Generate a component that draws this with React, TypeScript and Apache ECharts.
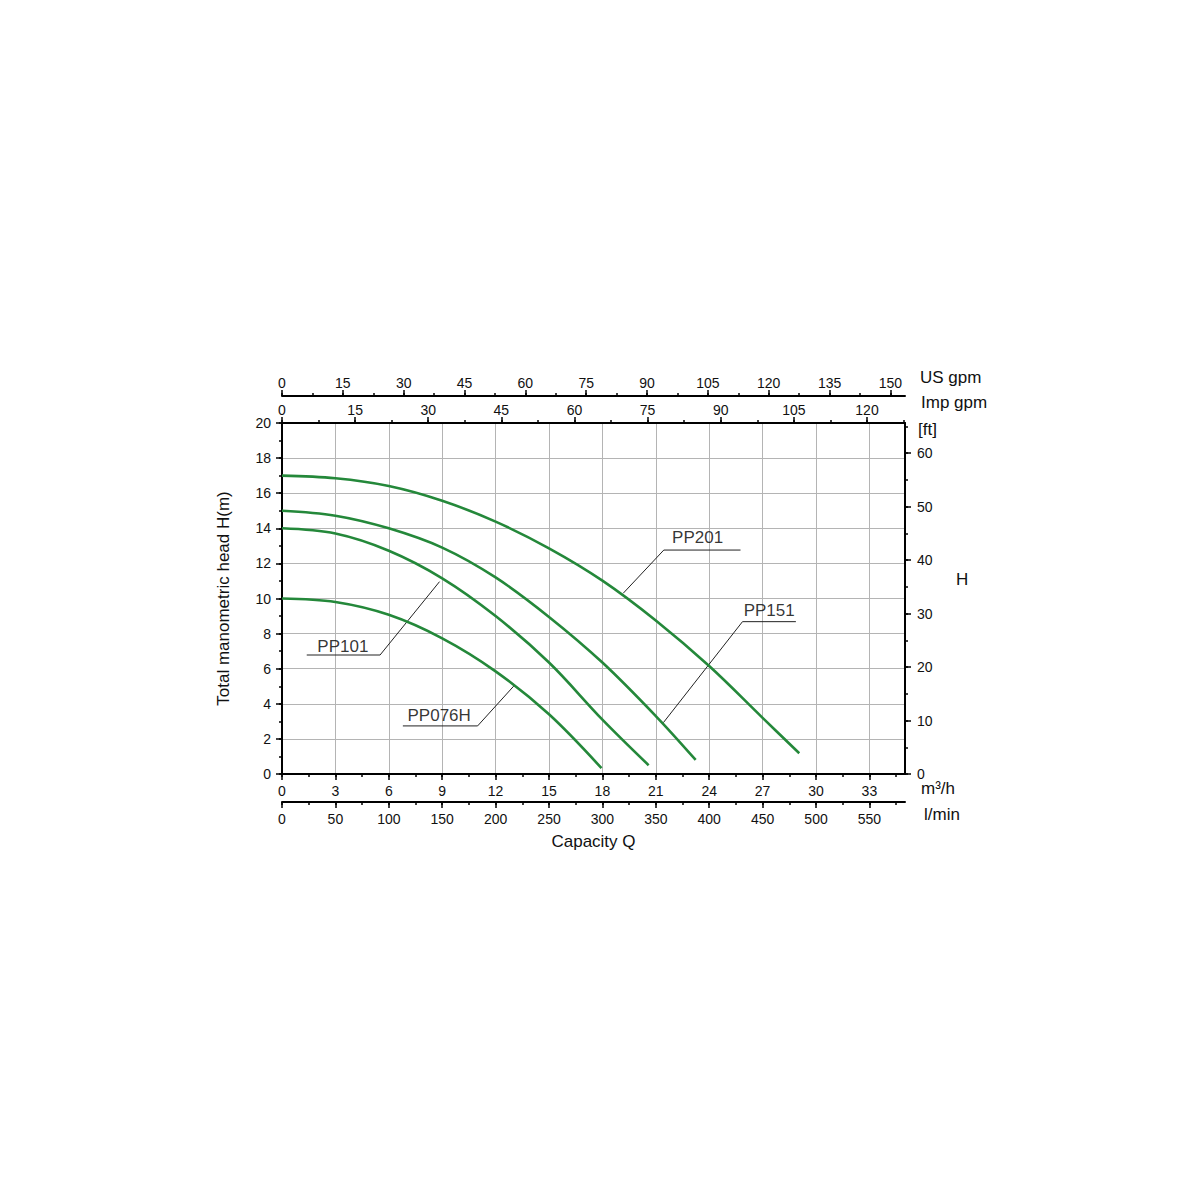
import React, { useEffect, useRef } from 'react';
import * as echarts from 'echarts';

const FONT = '"Liberation Sans", Arial, Helvetica, sans-serif';

// Pump curves: capacity Q (m3/h) and head H (m)
const qPP201 = [0, 3, 6, 9, 12, 15, 18, 21, 24, 27, 29.06];
const hPP201 = [17, 16.85, 16.41, 15.57, 14.38, 12.86, 11.02, 8.75, 6.15, 3.2, 1.18];
const qPP151 = [0, 3, 6, 9, 12, 15, 18, 21, 23.24];
const hPP151 = [15, 14.72, 14.0, 12.9, 11.2, 8.95, 6.35, 3.3, 0.8];
const qPP101 = [0, 3, 6, 9, 12, 15, 18, 20.6];
const hPP101 = [14, 13.7, 12.72, 11.15, 9.0, 6.35, 3.1, 0.5];
const qPP076H = [0, 3, 6, 9, 12, 15, 17.95];
const hPP076H = [10, 9.8, 9.07, 7.73, 5.85, 3.4, 0.33];

const seriesNames = ['PP201', 'PP151', 'PP101', 'PP076H'];

// Annotation leader lines (data coordinates Q, H) and label anchors
const leaderPP201 = [[19.17, 10.3], [21.45, 12.76], [25.76, 12.76]];
const leaderPP151 = [[21.42, 2.92], [25.87, 8.68], [28.87, 8.68]];
const leaderPP101 = [[8.85, 10.96], [5.51, 6.78], [1.39, 6.78]];
const leaderPP076H = [[13.02, 5.01], [10.99, 2.74], [6.79, 2.74]];
const labelAnchors = [[23.35, 13.45], [27.37, 9.29], [3.42, 7.29], [8.83, 3.36]];

// Axis scales
const qMax = 35; // m3/h
const lminMax = 583.3; // l/min
const usGpmMax = 153.6;
const impGpmMax = 127.8;
const hMax = 20; // m
const ftMax = 65.62;

const zip = (a: number[], b: number[]) => a.map((v, i) => [v, b[i]]);

const range = (step: number, max: number) => {
  const out: number[] = [];
  for (let i = 0; i * step <= max + 1e-9; i++) out.push(+(i * step).toFixed(4));
  return out;
};

const lineStyleAxis = { color: '#000', width: 2 };
const labelBase = { color: '#111', fontSize: 14, fontFamily: FONT };

function majorAxis(position: string, offset: number, max: number, interval: number, margin: number, hideMax: boolean, extra: any = {}) {
  return {
    type: 'value',
    position,
    offset,
    min: 0,
    max,
    interval,
    gridIndex: 0,
    axisLine: { show: true, onZero: false, lineStyle: lineStyleAxis },
    axisTick: { show: true, inside: false, length: 6, lineStyle: { color: '#000', width: 1.5 } },
    axisLabel: { show: true, margin, showMaxLabel: !hideMax, ...labelBase },
    splitLine: { show: false },
    ...extra,
  };
}

function minorAxis(position: string, offset: number, max: number, step: number) {
  return {
    type: 'value',
    position,
    offset,
    min: 0,
    max,
    interval: step,
    gridIndex: 0,
    axisLine: { show: false, onZero: false },
    axisTick: { show: true, inside: false, length: 3, lineStyle: { color: '#000', width: 1.5 }, customValues: range(step, max) },
    axisLabel: { show: false },
    splitLine: { show: false },
  };
}

const GREEN = '#24883a';

export default function App() {
  const ref = useRef<HTMLDivElement>(null);
  useEffect(() => {
    const chart = echarts.init(ref.current!, null, { renderer: 'svg', width: 1200, height: 1200 });
    const curves = [zip(qPP201, hPP201), zip(qPP151, hPP151), zip(qPP101, hPP101), zip(qPP076H, hPP076H)];
    const leaders = [leaderPP201, leaderPP151, leaderPP101, leaderPP076H];
    const gridSplit = { show: true, lineStyle: { color: '#b4b4b4', width: 1 } };
    const option: any = {
      animation: false,
      backgroundColor: '#fff',
      textStyle: { fontFamily: FONT },
      grid: { left: 282, top: 423, width: 623, height: 351, containLabel: false },
      xAxis: [
        majorAxis('bottom', 0, qMax, 3, 10, true, { splitLine: gridSplit }),
        minorAxis('bottom', 0, qMax, 1.5),
        majorAxis('bottom', 28, lminMax, 50, 10, true, {
          name: 'Capacity Q',
          nameLocation: 'middle',
          nameGap: 31,
          nameTextStyle: { color: '#111', fontSize: 17, fontFamily: FONT },
        }),
        minorAxis('bottom', 28, lminMax, 25),
        majorAxis('top', 0, impGpmMax, 15, 6, true),
        minorAxis('top', 0, impGpmMax, 7.5),
        majorAxis('top', 27, usGpmMax, 15, 6, true),
        minorAxis('top', 27, usGpmMax, 7.5),
      ],
      yAxis: [
        majorAxis('left', 0, hMax, 2, 11, false, {
          splitLine: gridSplit,
          name: 'Total manometric head H(m)',
          nameLocation: 'middle',
          nameGap: 50,
          nameRotate: 90,
          nameTextStyle: { color: '#111', fontSize: 17, fontFamily: FONT },
        }),
        minorAxis('left', 0, hMax, 1),
        majorAxis('right', 0, ftMax, 10, 12, true),
        minorAxis('right', 0, ftMax, 5),
      ],
      graphic: [
        { type: 'text', left: 920, top: 369, style: { text: 'US gpm', fontSize: 17, fontFamily: FONT, fill: '#111' } },
        { type: 'text', left: 921, top: 394, style: { text: 'Imp gpm', fontSize: 17, fontFamily: FONT, fill: '#111' } },
        { type: 'text', left: 918, top: 421, style: { text: '[ft]', fontSize: 17, fontFamily: FONT, fill: '#111' } },
        { type: 'text', left: 956, top: 571, style: { text: 'H', fontSize: 17, fontFamily: FONT, fill: '#111' } },
        { type: 'text', left: 921, top: 780, style: { text: 'm³/h', fontSize: 17, fontFamily: FONT, fill: '#111' } },
        { type: 'text', left: 924, top: 806, style: { text: 'l/min', fontSize: 17, fontFamily: FONT, fill: '#111' } },
      ],
      series: [
        ...curves.map((d, i) => ({
          name: seriesNames[i],
          type: 'line',
          xAxisIndex: 0,
          yAxisIndex: 0,
          data: d,
          smooth: 0.35,
          symbol: 'none',
          lineStyle: { color: GREEN, width: 2.6 },
          z: 5,
        })),
        ...leaders.map((d, i) => ({
          name: seriesNames[i] + ' leader',
          type: 'line',
          xAxisIndex: 0,
          yAxisIndex: 0,
          data: d,
          symbol: 'none',
          lineStyle: { color: '#222', width: 1 },
          z: 4,
        })),
        {
          name: 'labels',
          type: 'scatter',
          xAxisIndex: 0,
          yAxisIndex: 0,
          symbolSize: 1,
          itemStyle: { color: 'rgba(0,0,0,0)' },
          data: labelAnchors.map((p, i) => ({ name: seriesNames[i], value: p })),
          label: {
            show: true,
            position: 'inside',
            formatter: (p: any) => p.name,
            color: '#000',
            fontSize: 17,
            fontFamily: FONT,
          },
          z: 6,
        },
      ],
    };
    chart.setOption(option);
    return () => chart.dispose();
  }, []);
  return (
    <div
      ref={ref}
      style={{ position: 'absolute', left: 0, top: 0, width: 1200, height: 1200, background: '#fff' }}
    />
  );
}
